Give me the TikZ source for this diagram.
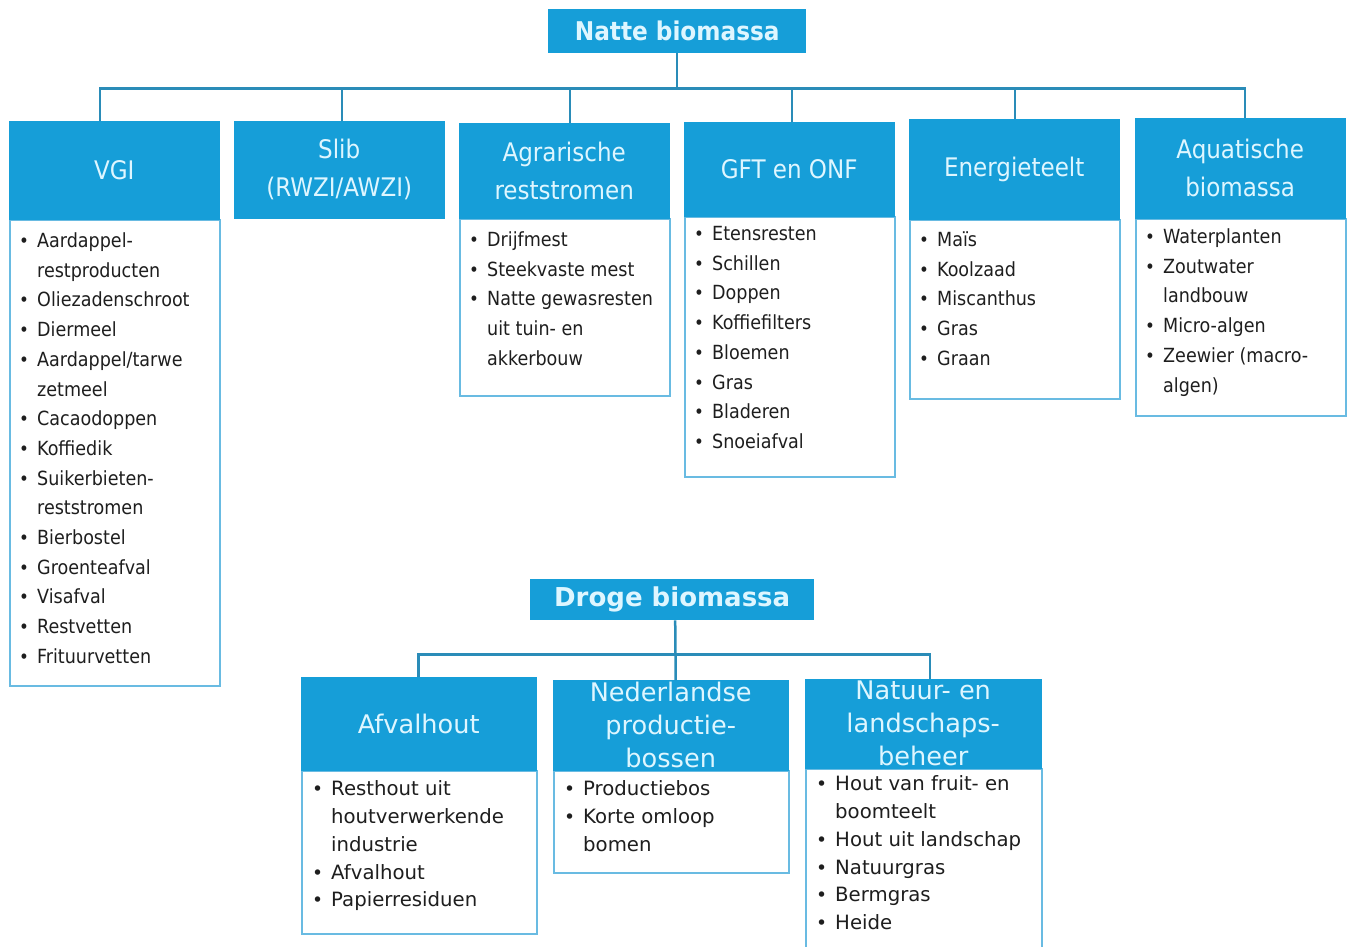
\documentclass[tikz,border=0pt]{standalone}
\usepackage{fontspec}
\usepackage{graphicx}
\setmainfont{DejaVu Sans}
\newfontfamily\condf{DejaVu Sans Condensed}
\definecolor{nblue}{RGB}{22,158,216}
\definecolor{hdrtext}{RGB}{222,246,255}
\definecolor{conncol}{RGB}{42,140,184}
\definecolor{bodyline}{RGB}{105,187,226}
\definecolor{itemtext}{RGB}{30,30,30}
\newcommand\bul{\scalebox{0.95}{•}}
\newcommand\itm[1]{\bul & #1\\}
\newcommand\cnt[1]{& #1\\}
\newenvironment{toplist}{\condf\fontsize{19.5}{29.7}\selectfont\begin{tabular}{@{}p{18pt}@{}l@{}}}{\end{tabular}}
\newenvironment{botlist}{\fontsize{19.7}{27.8}\selectfont\begin{tabular}{@{}p{19pt}@{}l@{}}}{\end{tabular}}
\begin{document}
\begin{tikzpicture}[x=1pt,y=-1pt,
  titlebox/.style={fill=nblue, text=hdrtext, inner sep=0pt, anchor=north west},
  tophdr/.style={fill=nblue, draw=nblue, text=hdrtext, inner sep=0pt, anchor=north west, align=center,
    font=\condf\fontsize{25.6}{38}\selectfont, minimum width=210pt, minimum height=98pt},
  bothdr/.style={fill=nblue, draw=nblue, text=hdrtext, inner sep=0pt, anchor=north west, align=center,
    font=\fontsize{25.6}{33}\selectfont, minimum width=235pt},
  bodybox/.style={draw=bodyline, line width=1.5pt, fill=white, inner sep=0pt, anchor=north west},
  items/.style={inner sep=0pt, anchor=north west, text=itemtext, align=left},
  conn/.style={draw=conncol, line width=2.5pt}
]
\useasboundingbox (0,0) rectangle (1350,946);
\fill[white] (0,0) rectangle (1350,946);

% ---------- Natte biomassa ----------
\node[titlebox, minimum width=258pt, minimum height=44pt, font=\condf\bfseries\fontsize{25.8}{30}\selectfont] (natte) at (548,9) {Natte biomassa};

% bodies (drawn first so headers sit on top)
\node[bodybox, minimum width=210pt, minimum height=466pt] (vgib) at (9,219) {};
\node[bodybox, minimum width=210pt, minimum height=177pt] (agrb) at (459,218) {};
\node[bodybox, minimum width=210pt, minimum height=260pt] (gftb) at (684,216) {};
\node[bodybox, minimum width=210pt, minimum height=179pt] (eneb) at (909,219) {};
\node[bodybox, minimum width=210pt, minimum height=197pt] (aqub) at (1135,218) {};

\node[tophdr] (vgi) at (9,121) {VGI};
\node[tophdr, minimum height=97pt] (slib) at (234,121) {Slib\\(RWZI/AWZI)};
\node[tophdr, minimum height=95pt] (agr) at (459,123) {Agrarische\\reststromen};
\node[tophdr, minimum height=94pt] (gft) at (684,122) {GFT en ONF};
\node[tophdr, minimum height=100pt] (ene) at (909,119) {Energieteelt};
\node[tophdr, minimum height=100pt] (aqu) at (1135,118) {Aquatische\\biomassa};

\node[items] (vgit) at (19,226.6) {\begin{toplist}
\itm{Aardappel-}\cnt{restproducten}\itm{Oliezadenschroot}\itm{Diermeel}
\itm{Aardappel/tarwe}\cnt{zetmeel}\itm{Cacaodoppen}\itm{Koffiedik}
\itm{Suikerbieten-}\cnt{reststromen}\itm{Bierbostel}\itm{Groenteafval}
\itm{Visafval}\itm{Restvetten}\itm{Frituurvetten}
\end{toplist}};
\node[items] (agrt) at (469,225.6) {\begin{toplist}
\itm{Drijfmest}\itm{Steekvaste mest}\itm{Natte gewasresten}\cnt{uit tuin- en}\cnt{akkerbouw}
\end{toplist}};
\node[items] (gftt) at (694,219.6) {\begin{toplist}
\itm{Etensresten}\itm{Schillen}\itm{Doppen}\itm{Koffiefilters}\itm{Bloemen}\itm{Gras}\itm{Bladeren}\itm{Snoeiafval}
\end{toplist}};
\node[items] (enet) at (919,225.6) {\begin{toplist}
\itm{Maïs}\itm{Koolzaad}\itm{Miscanthus}\itm{Gras}\itm{Graan}
\end{toplist}};
\node[items] (aqut) at (1145,222.6) {\begin{toplist}
\itm{Waterplanten}\itm{Zoutwater}\cnt{landbouw}\itm{Micro-algen}\itm{Zeewier (macro-}\cnt{algen)}
\end{toplist}};

% connectors top
\coordinate (nbus) at ([yshift=-35pt]natte.south);
\draw[conn] (natte.south) -- (nbus);
\draw[conn] ([xshift=-14pt]vgi.north) |- (nbus) -| ([xshift=5pt]aqu.north);
\draw[conn] ([xshift=3pt]slib.north) -- ([xshift=3pt]slib.north |- nbus);
\draw[conn] ([xshift=6pt]agr.north) -- ([xshift=6pt]agr.north |- nbus);
\draw[conn] ([xshift=3pt]gft.north) -- ([xshift=3pt]gft.north |- nbus);
\draw[conn] ([xshift=1pt]ene.north) -- ([xshift=1pt]ene.north |- nbus);

% ---------- Droge biomassa ----------
\node[titlebox, minimum width=284pt, minimum height=41pt, font=\bfseries\fontsize{26}{30}\selectfont] (droge) at (530,579) {Droge biomassa};

\node[bodybox, minimum width=235pt, minimum height=163pt] (afvb) at (301,770) {};
\node[bodybox, minimum width=235pt, minimum height=102pt] (nedb) at (553,770) {};
\node[bodybox, minimum width=236pt, minimum height=190pt] (natb) at (805,768) {};

\node[bothdr, minimum height=93pt] (afv) at (301,677) {Afvalhout};
\node[bothdr, minimum height=90pt] (ned) at (553,680) {Nederlandse\\productie-\\bossen};
\node[bothdr, minimum width=236pt, minimum height=89pt] (nat) at (805,679) {Natuur- en\\landschaps-\\beheer};

\node[items] (afvt) at (312,776) {\begin{botlist}
\itm{Resthout uit}\cnt{houtverwerkende}\cnt{industrie}\itm{Afvalhout}\itm{Papierresiduen}
\end{botlist}};
\node[items] (nedt) at (564,776) {\begin{botlist}
\itm{Productiebos}\itm{Korte omloop}\cnt{bomen}
\end{botlist}};
\node[items] (natt) at (816,771) {\begin{botlist}
\itm{Hout van fruit- en}\cnt{boomteelt}\itm{Hout uit landschap}\itm{Natuurgras}\itm{Bermgras}\itm{Heide}
\end{botlist}};

% connectors bottom
\coordinate (dbus) at ([yshift=-34pt,xshift=3pt]droge.south);
\draw[conn] ([xshift=3pt]droge.south) -- ([xshift=5pt]ned.north);
\draw[conn] (afv.north) |- (dbus) -| ([xshift=7pt]nat.north);
\end{tikzpicture}
\end{document}
